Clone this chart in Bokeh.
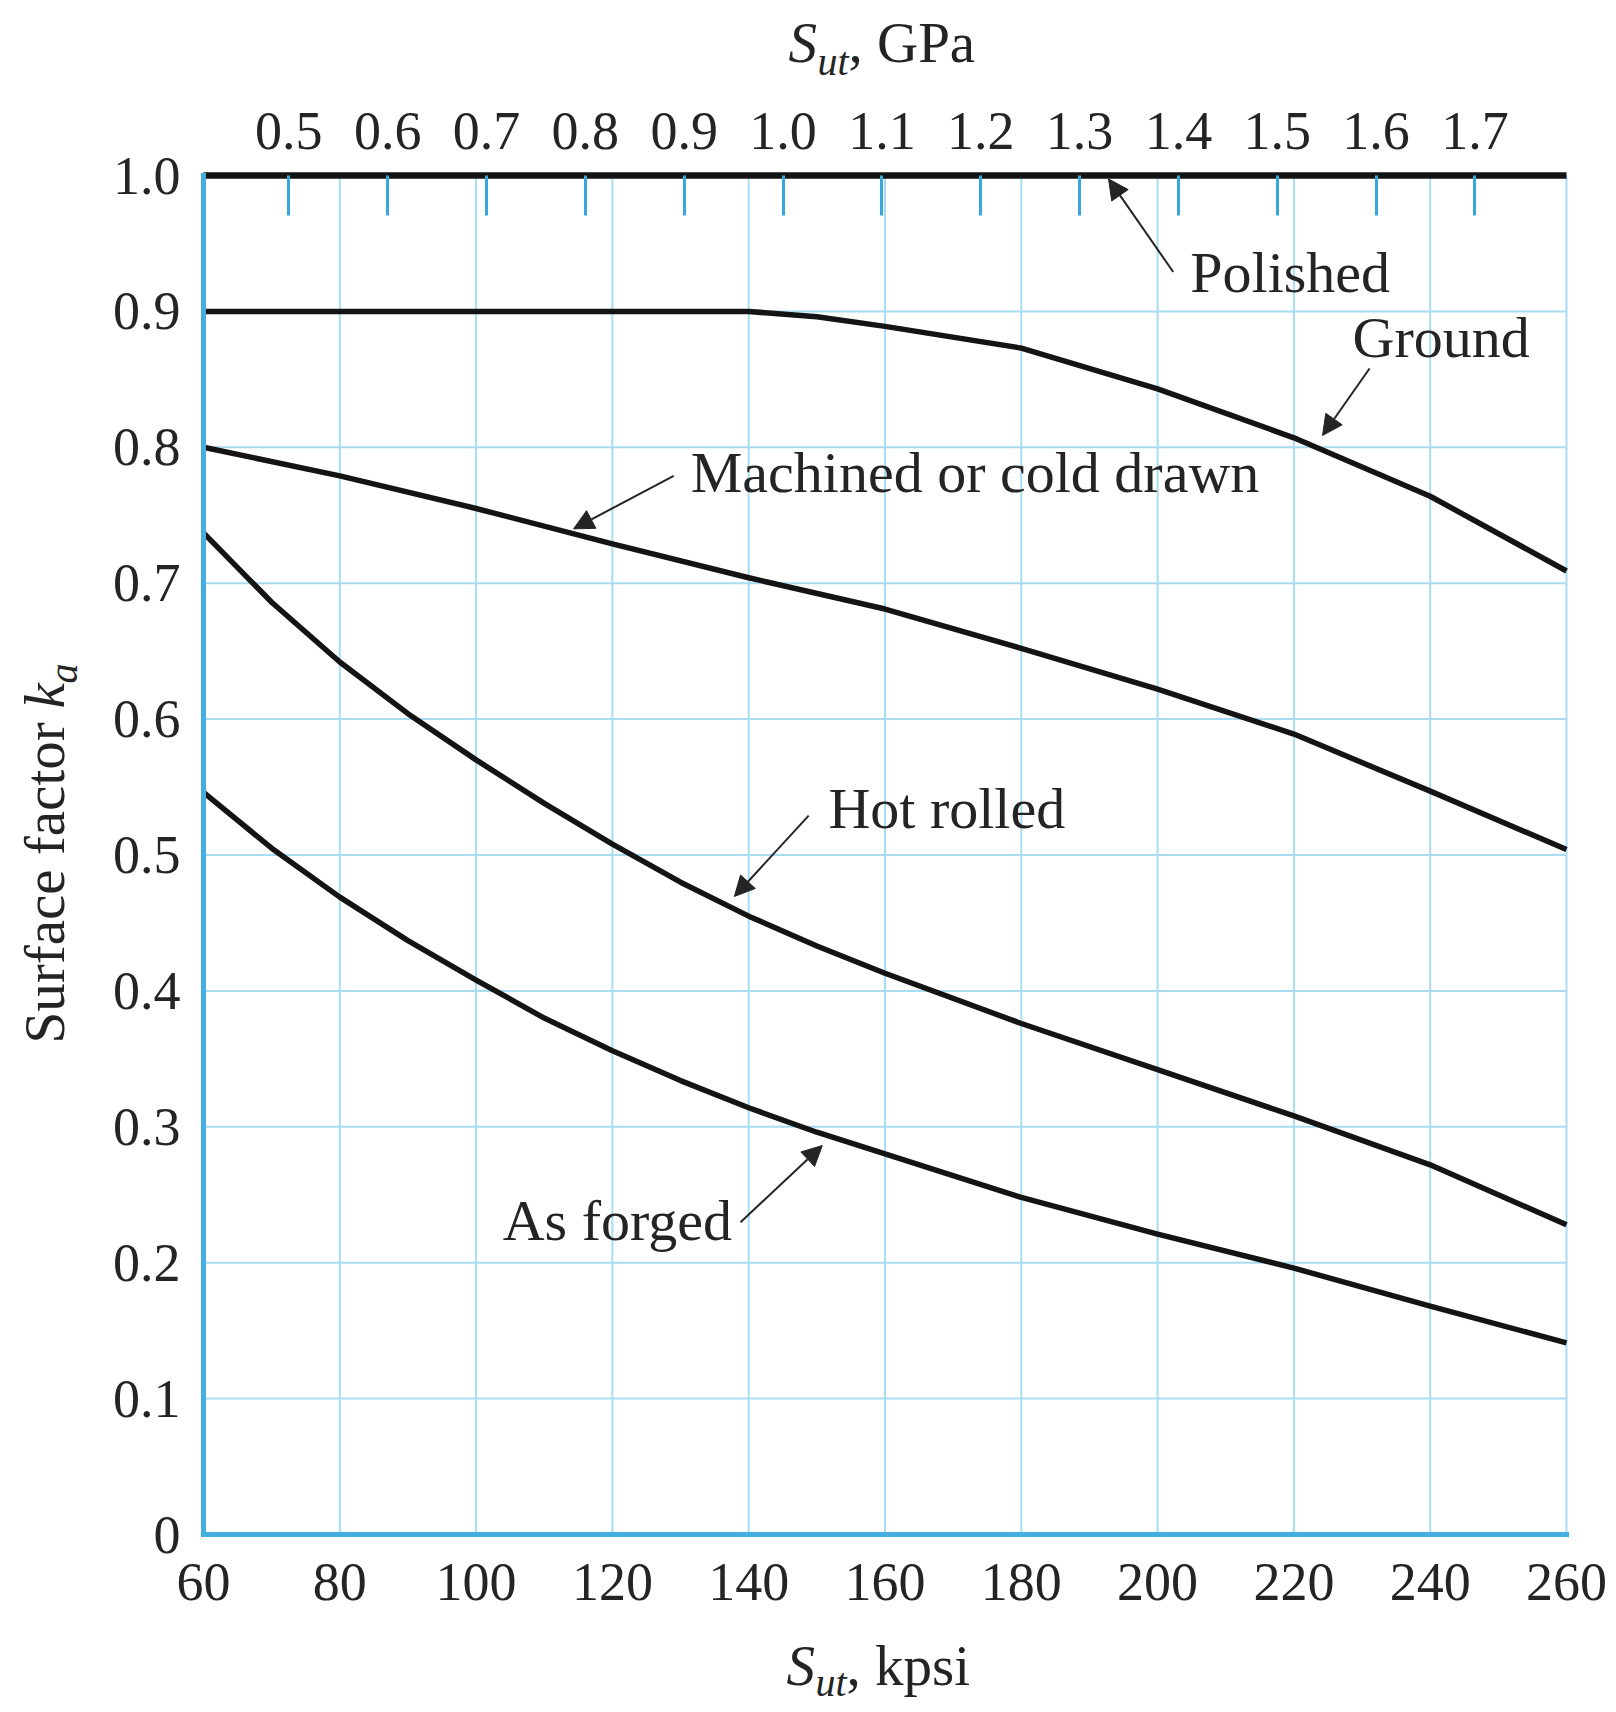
import numpy as np
from bokeh.plotting import figure
from bokeh.models import (Range1d, LinearAxis, FixedTicker, PrintfTickFormatter,
                          Label, Arrow, NormalHead)
from bokeh.embed import file_html
from bokeh.resources import INLINE

# ---------------- data ----------------
kpsi_ticks = [60, 80, 100, 120, 140, 160, 180, 200, 220, 240, 260]
ka_ticks = [0.0, 0.1, 0.2, 0.3, 0.4, 0.5, 0.6, 0.7, 0.8, 0.9, 1.0]
gpa_ticks = [0.5, 0.6, 0.7, 0.8, 0.9, 1.0, 1.1, 1.2, 1.3, 1.4, 1.5, 1.6, 1.7]

polished_x = [60, 260]
polished_y = [1.0, 1.0]

ground_x = [60, 80, 100, 120, 140, 150, 160, 180, 200, 220, 240, 260]
ground_y = [0.900, 0.900, 0.900, 0.900, 0.900, 0.896, 0.889, 0.873, 0.843, 0.807, 0.764, 0.709]

machined_x = [60, 80, 100, 120, 140, 160, 180, 200, 220, 240, 260]
machined_y = [0.800, 0.779, 0.755, 0.729, 0.704, 0.681, 0.652, 0.622, 0.589, 0.547, 0.504]

hot_x = [60, 70, 80, 90, 100, 110, 120, 130, 140, 150, 160, 180, 200, 220, 240, 260]
hot_y = [0.737, 0.686, 0.642, 0.604, 0.570, 0.538, 0.508, 0.480, 0.455, 0.433, 0.413,
         0.376, 0.342, 0.308, 0.272, 0.228]

forged_x = [60, 70, 80, 90, 100, 110, 120, 130, 140, 150, 160, 180, 200, 220, 240, 260]
forged_y = [0.546, 0.505, 0.469, 0.437, 0.408, 0.380, 0.356, 0.334, 0.314, 0.296, 0.280,
            0.248, 0.221, 0.196, 0.168, 0.141]

KPSI_TO_GPA = 0.00689476

# ---------------- geometry (canvas pixels -> data) ----------------
W, H = 1612, 1712
FX0, FX1 = 203, 1566      # canvas x of 60 / 260 kpsi
FY1, FY0 = 175, 1534      # canvas y of ka = 1.0 / ka = 0
PX_X = 200.0 / (FX1 - FX0)   # kpsi per pixel
PX_Y = 1.0 / (FY0 - FY1)     # ka per pixel


def kx(px):
    return 60 + (px - FX0) * PX_X


def ky(py):
    return (FY0 - py) * PX_Y


FONT = "Liberation Serif"
TXT = "#242424"
CURVE = "#141414"
GRID = "#a9dcf2"
AXIS = "#43afdf"
TICK = "#38a7db"

# the frame covers the whole canvas; the chart axes sit at fixed locations
p = figure(width=W, height=H,
           x_range=Range1d(kx(0), kx(W)), y_range=Range1d(ky(H), ky(0)),
           output_backend="svg", toolbar_location=None,
           min_border=0)
p.outline_line_color = None
p.background_fill_color = "white"
p.border_fill_color = "white"
p.grid.visible = False

# grid lines, limited to the chart area
p.segment(x0=kpsi_ticks, y0=0, x1=kpsi_ticks, y1=1.0, line_color=GRID, line_width=2)
p.segment(x0=60, y0=ka_ticks, x1=260, y1=ka_ticks, line_color=GRID, line_width=2)

# bottom axis (kpsi)
xa = p.xaxis[0]
xa.fixed_location = 0
xa.bounds = (60, 260)
xa.ticker = FixedTicker(ticks=kpsi_ticks)
xa.axis_line_color = AXIS
xa.axis_line_width = 5
xa.axis_line_cap = "square"
xa.major_tick_line_color = None
xa.minor_tick_line_color = None
xa.major_tick_out = 0
xa.major_tick_in = 0
xa.major_label_standoff = 29
xa.major_label_text_font = FONT
xa.major_label_text_font_size = "54px"
xa.major_label_text_color = TXT

# left axis (ka)
ya = p.yaxis[0]
ya.fixed_location = 60
ya.bounds = (0, 1)
ya.ticker = FixedTicker(ticks=ka_ticks)
ya.formatter = PrintfTickFormatter(format="%.1f")
ya.major_label_overrides = {0: "0"}
ya.axis_line_color = AXIS
ya.axis_line_width = 5
ya.axis_line_cap = "square"
ya.major_tick_line_color = None
ya.minor_tick_line_color = None
ya.major_tick_out = 0
ya.major_tick_in = 0
ya.major_label_standoff = 23
ya.major_label_text_font = FONT
ya.major_label_text_font_size = "54px"
ya.major_label_text_color = TXT

# top axis (GPa)
p.extra_x_ranges = {"gpa": Range1d(kx(0) * KPSI_TO_GPA, kx(W) * KPSI_TO_GPA)}
top = LinearAxis(x_range_name="gpa", ticker=FixedTicker(ticks=gpa_ticks),
                 formatter=PrintfTickFormatter(format="%.1f"))
top.fixed_location = 1.0
top.bounds = (60 * KPSI_TO_GPA, 260 * KPSI_TO_GPA)
top.axis_line_color = None
top.major_tick_in = 40
top.major_tick_out = 0
top.major_tick_line_color = TICK
top.major_tick_line_width = 3
top.minor_tick_line_color = None
top.major_label_standoff = 27
top.major_label_text_font = FONT
top.major_label_text_font_size = "54px"
top.major_label_text_color = TXT
p.add_layout(top, "above")

# curves
for xs, ys, w in ((polished_x, polished_y, 6.5), (ground_x, ground_y, 5.5),
                  (machined_x, machined_y, 5.5), (hot_x, hot_y, 5.5),
                  (forged_x, forged_y, 5.5)):
    p.line(xs, ys, line_color=CURVE, line_width=w, line_join="round")

BASE_FIX = 0.37   # measured baseline correction, in em


def lab(text, x, y, size=57, style="normal", angle=0.0):
    fix = BASE_FIX * size
    if angle == 0.0:
        y = y + fix * PX_Y
    else:
        x = x - fix * PX_X
    p.add_layout(Label(x=x, y=y, text=text, text_font=FONT,
                       text_font_size=f"{size}px", text_font_style=style,
                       text_color=TXT, text_align="left",
                       text_baseline="alphabetic", angle=angle))


def arrow(x0, y0, x1, y1):
    p.add_layout(Arrow(end=NormalHead(size=20, fill_color=TXT, line_color=TXT, line_width=1),
                       x_start=x0, y_start=y0, x_end=x1, y_end=y1,
                       line_color=TXT, line_width=2))


# curve annotations (data coordinates)
lab("Polished", 204.8, 0.9132, 58)
arrow(202.3, 0.929, 192.8, 0.9975)
lab("Ground", 228.6, 0.8653, 58)
arrow(231.1, 0.858, 224.2, 0.8087)
lab("Machined or cold drawn", 131.5, 0.7656, 58)
arrow(129.0, 0.779, 114.3, 0.740)
lab("Hot rolled", 151.7, 0.5182, 58)
arrow(148.8, 0.529, 137.9, 0.4695)
lab("As forged", 103.9, 0.2152, 58)
arrow(138.8, 0.2298, 150.8, 0.2862)

# axis titles (positioned in canvas pixels)
lab("S", kx(788), ky(63), 57, "italic")
lab("ut", kx(817), ky(76), 40, "italic")
lab(", GPa", kx(848), ky(63), 57)

lab("S", kx(786), ky(1686), 57, "italic")
lab("ut", kx(815), ky(1697), 40, "italic")
lab(", kpsi", kx(846), ky(1686), 57)

lab("Surface factor ", kx(65), ky(1043), 57, "normal", np.pi / 2)
lab("k", kx(65), ky(1043 - 335), 57, "italic", np.pi / 2)
lab("a", kx(78), ky(1043 - 335 - 25), 40, "italic", np.pi / 2)

open("out.html", "w").write(file_html(p, INLINE))
